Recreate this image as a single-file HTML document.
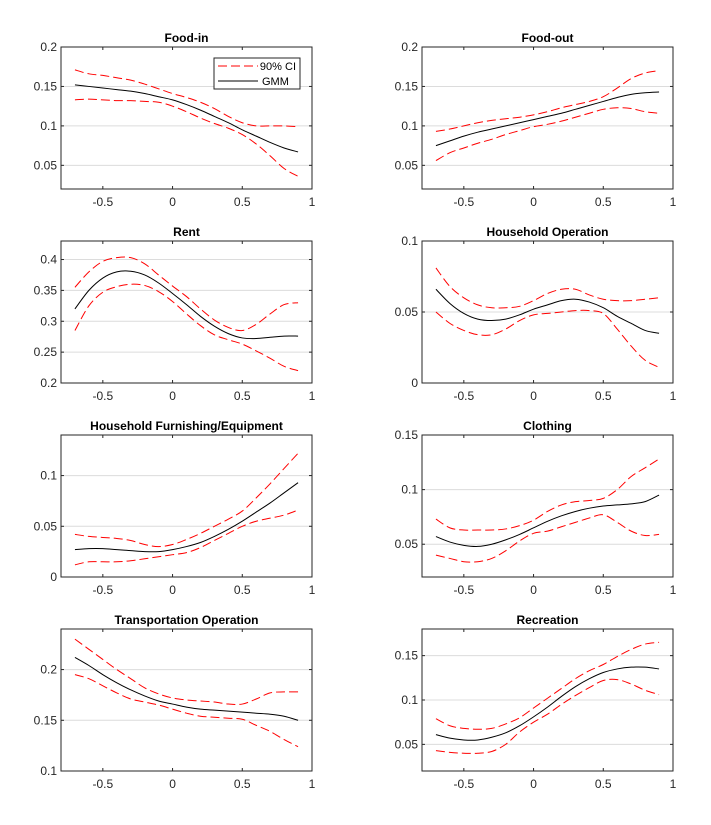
<!DOCTYPE html>
<html><head><meta charset="utf-8"><style>
html,body{margin:0;padding:0;background:#fff;}
svg{display:block;font-family:"Liberation Sans",Arial,sans-serif;}
</style></head>
<body>
<svg id="fig" width="711" height="825" viewBox="0 0 711 825" xmlns="http://www.w3.org/2000/svg"></svg>
<script>
const xValues = [-0.7,-0.6,-0.5,-0.4,-0.3,-0.2,-0.1,0,0.1,0.2,0.3,0.4,0.5,0.6,0.7,0.8,0.9];
const xTicks = [-0.5,0,0.5,1];
const xTickLabels = ["-0.5","0","0.5","1"];
const titles = ["Food-in","Food-out","Rent","Household Operation","Household Furnishing/Equipment","Clothing","Transportation Operation","Recreation"];
const yRanges = [[0.02,0.2],[0.02,0.2],[0.2,0.43],[0,0.1],[0,0.14],[0.02,0.15],[0.1,0.24],[0.02,0.18]];
const yTicks = [[0.05,0.1,0.15,0.2],[0.05,0.1,0.15,0.2],[0.2,0.25,0.3,0.35,0.4],[0,0.05,0.1],[0,0.05,0.1],[0.05,0.1,0.15],[0.1,0.15,0.2],[0.05,0.1,0.15]];
const yTickLabels = [["0.05","0.1","0.15","0.2"],["0.05","0.1","0.15","0.2"],["0.2","0.25","0.3","0.35","0.4"],["0","0.05","0.1"],["0","0.05","0.1"],["0.05","0.1","0.15"],["0.1","0.15","0.2"],["0.05","0.1","0.15"]];
const gmm = [
[.152,.150,.148,.146,.144,.141,.137,.133,.127,.120,.112,.104,.095,.087,.079,.072,.067],
[.075,.081,.087,.092,.096,.100,.104,.108,.112,.116,.121,.126,.131,.136,.140,.142,.143],
[.320,.350,.370,.380,.381,.375,.362,.345,.327,.308,.292,.280,.273,.272,.274,.276,.276],
[.066,.056,.049,.045,.044,.045,.048,.052,.055,.058,.059,.057,.053,.047,.042,.037,.035],
[.027,.028,.028,.027,.026,.025,.025,.027,.030,.034,.040,.047,.055,.064,.073,.083,.093],
[.057,.052,.049,.048,.050,.054,.059,.065,.071,.076,.080,.083,.085,.086,.087,.089,.095],
[.212,.204,.195,.187,.180,.174,.169,.166,.163,.161,.160,.159,.158,.157,.156,.154,.150],
[.061,.057,.055,.055,.058,.063,.071,.081,.092,.104,.115,.124,.131,.135,.137,.137,.135]];
const upper = [
[.171,.166,.164,.161,.158,.153,.147,.141,.136,.130,.122,.112,.104,.100,.100,.100,.099],
[.093,.096,.100,.104,.107,.109,.111,.114,.118,.123,.127,.131,.137,.148,.160,.167,.170],
[.355,.380,.397,.403,.403,.393,.375,.357,.340,.320,.302,.290,.285,.295,.312,.327,.330],
[.081,.068,.060,.055,.053,.053,.054,.058,.063,.066,.066,.062,.059,.058,.058,.059,.060],
[.042,.040,.039,.038,.036,.032,.030,.032,.037,.043,.050,.057,.065,.078,.092,.107,.122],
[.073,.065,.063,.063,.063,.064,.067,.072,.080,.086,.089,.090,.092,.100,.112,.120,.128],
[.230,.220,.210,.200,.191,.182,.176,.172,.170,.169,.168,.166,.166,.171,.177,.178,.178],
[.079,.071,.068,.067,.068,.073,.080,.091,.102,.113,.124,.133,.140,.149,.157,.163,.165]];
const lower = [
[.133,.134,.133,.132,.132,.131,.130,.125,.118,.110,.103,.097,.089,.077,.062,.046,.036],
[.056,.066,.072,.078,.083,.089,.094,.099,.102,.106,.111,.116,.121,.123,.122,.118,.116],
[.285,.325,.347,.356,.360,.358,.348,.332,.312,.293,.278,.270,.263,.252,.240,.227,.220],
[.050,.042,.037,.034,.034,.038,.044,.048,.049,.050,.051,.051,.049,.038,.026,.016,.011],
[.012,.015,.015,.015,.016,.018,.020,.022,.024,.029,.036,.043,.050,.055,.058,.061,.066],
[.040,.037,.034,.034,.037,.044,.053,.060,.062,.066,.070,.074,.077,.070,.062,.058,.059],
[.195,.191,.184,.177,.171,.168,.165,.161,.157,.154,.153,.152,.151,.145,.139,.131,.124],
[.043,.041,.040,.040,.042,.050,.064,.075,.084,.095,.105,.114,.122,.123,.118,.111,.106]];

const NS="http://www.w3.org/2000/svg";
const svg=document.getElementById('fig');
function mk(tag,attrs,parent){const e=document.createElementNS(NS,tag);for(const k in attrs)e.setAttribute(k,attrs[k]);(parent||svg).appendChild(e);return e;}
const colX=[61,422], rowY=[47,241,435,629], W=251, H=142;
const XMIN=-0.8, XMAX=1;
function pathFor(xs,ys,sx,sy){
  const p=xs.map((x,i)=>[sx(x),sy(ys[i])]);
  let d='M'+p[0][0].toFixed(2)+','+p[0][1].toFixed(2);
  for(let i=0;i<p.length-1;i++){
    const p0=p[Math.max(0,i-1)],p1=p[i],p2=p[i+1],p3=p[Math.min(p.length-1,i+2)];
    const c1=[p1[0]+(p2[0]-p0[0])/6,p1[1]+(p2[1]-p0[1])/6];
    const c2=[p2[0]-(p3[0]-p1[0])/6,p2[1]-(p3[1]-p1[1])/6];
    d+=' C'+c1[0].toFixed(2)+','+c1[1].toFixed(2)+' '+c2[0].toFixed(2)+','+c2[1].toFixed(2)+' '+p2[0].toFixed(2)+','+p2[1].toFixed(2);
  }
  return d;
}
for(let k=0;k<8;k++){
  const L=colX[k%2], T=rowY[Math.floor(k/2)];
  const [y0,y1]=yRanges[k];
  const sx=x=>L+(x-XMIN)/(XMAX-XMIN)*W;
  const sy=y=>T+H-(y-y0)/(y1-y0)*H;
  const g=mk('g',{});
  
  
  yTicks[k].forEach((v,i)=>{
    const y=sy(v);
    if(y>T+0.5&&y<T+H-0.5){const gl=mk('line',{x1:L,x2:L+W,y1:y,y2:y,stroke:'#dcdcdc','stroke-width':1},g);
      
      }
  });
  yTicks[k].forEach((v,i)=>{
    const y=sy(v);
    mk('line',{x1:L,x2:L+3,y1:y,y2:y,stroke:'#262626'},g);
    mk('line',{x1:L+W,x2:L+W-3,y1:y,y2:y,stroke:'#262626'},g);
    const t=mk('text',{x:L-4,y:y+4,'text-anchor':'end','font-size':'12','fill':'#262626'},g);
    t.textContent=yTickLabels[k][i];
    
    
  });
  xTicks.forEach((v,i)=>{
    const x=sx(v);
    mk('line',{x1:x,x2:x,y1:T+H,y2:T+H-3,stroke:'#262626'},g);
    mk('line',{x1:x,x2:x,y1:T,y2:T+3,stroke:'#262626'},g);
    const t=mk('text',{x:x,y:T+H+17,'text-anchor':'middle','font-size':'12','fill':'#262626'},g);
    t.textContent=xTickLabels[i];
    
    
  });
  const up=mk('path',{d:pathFor(xValues,upper[k],sx,sy),fill:'none',stroke:'#ff0000','stroke-width':1,'stroke-dasharray':'9,4'},g);
  
  
  const lo=mk('path',{d:pathFor(xValues,lower[k],sx,sy),fill:'none',stroke:'#ff0000','stroke-width':1,'stroke-dasharray':'9,4'},g);
  
  
  const gm=mk('path',{d:pathFor(xValues,gmm[k],sx,sy),fill:'none',stroke:'#000','stroke-width':1},g);
  
  
  const box=mk('rect',{x:L,y:T,width:W,height:H,fill:'none',stroke:'#262626','stroke-width':1},g);
  
  
  const tt=mk('text',{x:L+W/2,y:T-5,'text-anchor':'middle','font-size':'12','font-weight':'bold','fill':'#000'},g);
  tt.textContent=titles[k];
  
  
  if(k===0){
    const lg=mk('g',{},g);
    
    
    mk('rect',{x:214,y:58,width:86,height:31,fill:'#fff',stroke:'#262626'},lg);
    mk('line',{x1:218,x2:258,y1:66,y2:66,stroke:'#ff0000','stroke-dasharray':'9,4'},lg);
    mk('line',{x1:218,x2:258,y1:81,y2:81,stroke:'#000'},lg);
    const a=mk('text',{x:296,y:70,'text-anchor':'end','font-size':'11','fill':'#000'},lg);
    a.textContent='90% CI';
    
    
    const b=mk('text',{x:262,y:85,'font-size':'11','fill':'#000'},lg);
    b.textContent='GMM';
    
    
  }
}
</script>
</body></html>
